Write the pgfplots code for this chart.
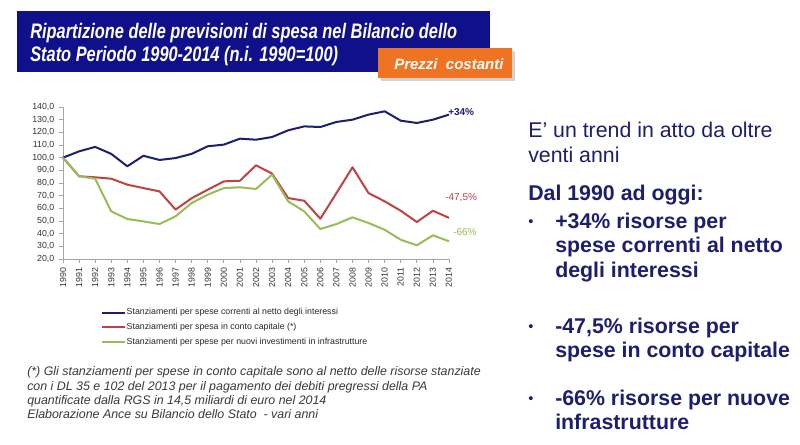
\documentclass[border=0pt]{standalone}
\usepackage{pgfplots}
\usepackage{pgfplotstable}
\pgfplotsset{compat=1.18}
\usepackage{fontspec}
\setmainfont{Liberation Sans}
\newfontfamily\narrowfont[FakeStretch=0.78]{Liberation Sans}
\definecolor{navy}{HTML}{1E1E6E}
\definecolor{titleblue}{HTML}{10108A}
\definecolor{orangebox}{HTML}{EE7424}
\definecolor{redline}{HTML}{BE4341}
\definecolor{greenline}{HTML}{9BBB59}
\definecolor{foot}{HTML}{3A3A3A}

\pgfplotstableread{
year corr cap infr
1990 100   100  100
1991 105   85.3 85.3
1992 108.5 84.5 83.4
1993 103   83.4 57.6
1994 93.2  78.7 51.6
1995 101.5 76.0 49.7
1996 98.2  73.4 47.6
1997 99.7  59.0 53.7
1998 103   68.0 64.2
1999 109   74.7 70.8
2000 110.3 81.3 76.0
2001 115   81.8 76.6
2002 114.2 94.0 75.3
2003 116.3 87.4 86.6
2004 121.6 68.1 65.5
2005 124.7 66.0 57.6
2006 124.2 51.8 43.7
2007 128.2 72.0 47.6
2008 130   92.4 52.9
2009 134   72.0 48.4
2010 136.6 65.5 43.1
2011 129.2 58.1 35.2
2012 127.4 49.2 30.8
2013 130   58.1 38.7
2014 134   52.5 34.0
}\datatable

\begin{document}
\begin{tikzpicture}
\begin{scope}[x=0.75pt,y=-0.75pt]
\path[use as bounding box, fill=white] (0,0) rectangle (800,444);

% title
\fill[titleblue] (17,11) rectangle (490,72);
\node[anchor=base west, inner sep=0, text=white] at (30,38)
  {\narrowfont\bfseries\itshape\fontsize{15.75}{18}\selectfont Ripartizione delle previsioni di spesa nel Bilancio dello};
\node[anchor=base west, inner sep=0, text=white] at (30,61)
  {\narrowfont\bfseries\itshape\fontsize{15.75}{18}\selectfont Stato Periodo 1990-2014 (n.i. 1990=100)};
\fill[gray!35] (381,51) rectangle (515,81);
\fill[orangebox] (378,48) rectangle (512,78);
\node[anchor=base west, inner sep=0, text=white] at (394,69)
  {\bfseries\itshape\fontsize{11.25}{13}\selectfont Prezzi\ \ costanti};

% end labels
\node[anchor=west, inner sep=0, text=navy] at (448,112) {\bfseries\fontsize{7.5}{9}\selectfont +34\%};
\node[anchor=west, inner sep=0, text=redline] at (445,198) {\fontsize{7.5}{9}\selectfont -47,5\%};
\node[anchor=west, inner sep=0, text=greenline] at (453,232) {\fontsize{7.5}{9}\selectfont -66\%};

% footnote
\begin{scope}[every node/.style={anchor=base west, inner sep=0, text=foot, font=\itshape\fontsize{9.3}{10}\selectfont}]
\node at (27,375) {(*) Gli stanziamenti per spese in conto capitale sono al netto delle risorse stanziate};
\node at (27,390) {con i DL 35 e 102 del 2013 per il pagamento dei debiti pregressi della PA};
\node at (27,404) {quantificate dalla RGS in 14,5 miliardi di euro nel 2014};
\node at (27,418) {Elaborazione Ance su Bilancio dello Stato \ - vari anni};
\end{scope}

% right text
\begin{scope}[every node/.style={anchor=base west, inner sep=0, text=navy, font=\fontsize{16}{19}\selectfont}]
\node at (528,137) {E’ un trend in atto da oltre};
\node at (528,162) {venti anni};
\node at (528,200) {\bfseries Dal 1990 ad oggi:};
\node at (528,228) {\fontsize{11}{12}\selectfont\raisebox{0.25ex}{\textbullet}};
\node at (555,228) {\bfseries +34\% risorse per};
\node at (555,252.5) {\bfseries spese correnti al netto};
\node at (555,277) {\bfseries degli interessi};
\node at (528,333) {\fontsize{11}{12}\selectfont\raisebox{0.25ex}{\textbullet}};
\node at (555,333) {\bfseries -47,5\% risorse per};
\node at (555,357) {\bfseries spese in conto capitale};
\node at (528,405) {\fontsize{11}{12}\selectfont\raisebox{0.25ex}{\textbullet}};
\node at (555,405) {\bfseries -66\% risorse per nuove};
\node at (555,429) {\bfseries infrastrutture};
\end{scope}
\end{scope}

\begin{axis}[
  at={(47.25pt,-194.25pt)}, anchor=south west,
  scale only axis, width=289.5pt, height=114pt,
  xmin=1990, xmax=2014, ymin=20, ymax=140,
  axis lines*=left,
  axis line style={gray!70, line width=0.6pt},
  xtick={1990,...,2014}, ytick={20,30,...,140},
  tick style={gray!70, line width=0.5pt},
  tick align=outside, major tick length=3pt,
  /pgf/number format/assume math mode=true,
  xticklabel style={rotate=90, anchor=east, font=\fontsize{6.6}{7}\selectfont, text=black!80,
     /pgf/number format/1000 sep={}},
  yticklabel style={font=\fontsize{6.6}{7}\selectfont, text=black!80,
     /pgf/number format/.cd, fixed, fixed zerofill, precision=1, use comma, 1000 sep={}},
  legend style={at={(0.088,-0.30)}, anchor=north west, draw=none, fill=none,
     font=\fontsize{6.6}{7}\selectfont, text=black!85, row sep=3.6pt,
     nodes={inner sep=0.6pt}},
  legend cell align=left,
  legend image code/.code={\draw[#1, line width=1.5pt] (0pt,0pt) -- (17pt,0pt);},
  clip=false,
]
\addplot[navy, line width=1.5pt, line join=round] table[x=year, y=corr] {\datatable};
\addlegendentry{Stanziamenti per spese correnti al netto degli interessi}
\addplot[redline, line width=1.5pt, line join=round] table[x=year, y=cap] {\datatable};
\addlegendentry{Stanziamenti per spesa in conto capitale (*)}
\addplot[greenline, line width=1.5pt, line join=round] table[x=year, y=infr] {\datatable};
\addlegendentry{Stanziamenti per spese per nuovi investimenti in infrastrutture}
\end{axis}
\end{tikzpicture}
\end{document}
